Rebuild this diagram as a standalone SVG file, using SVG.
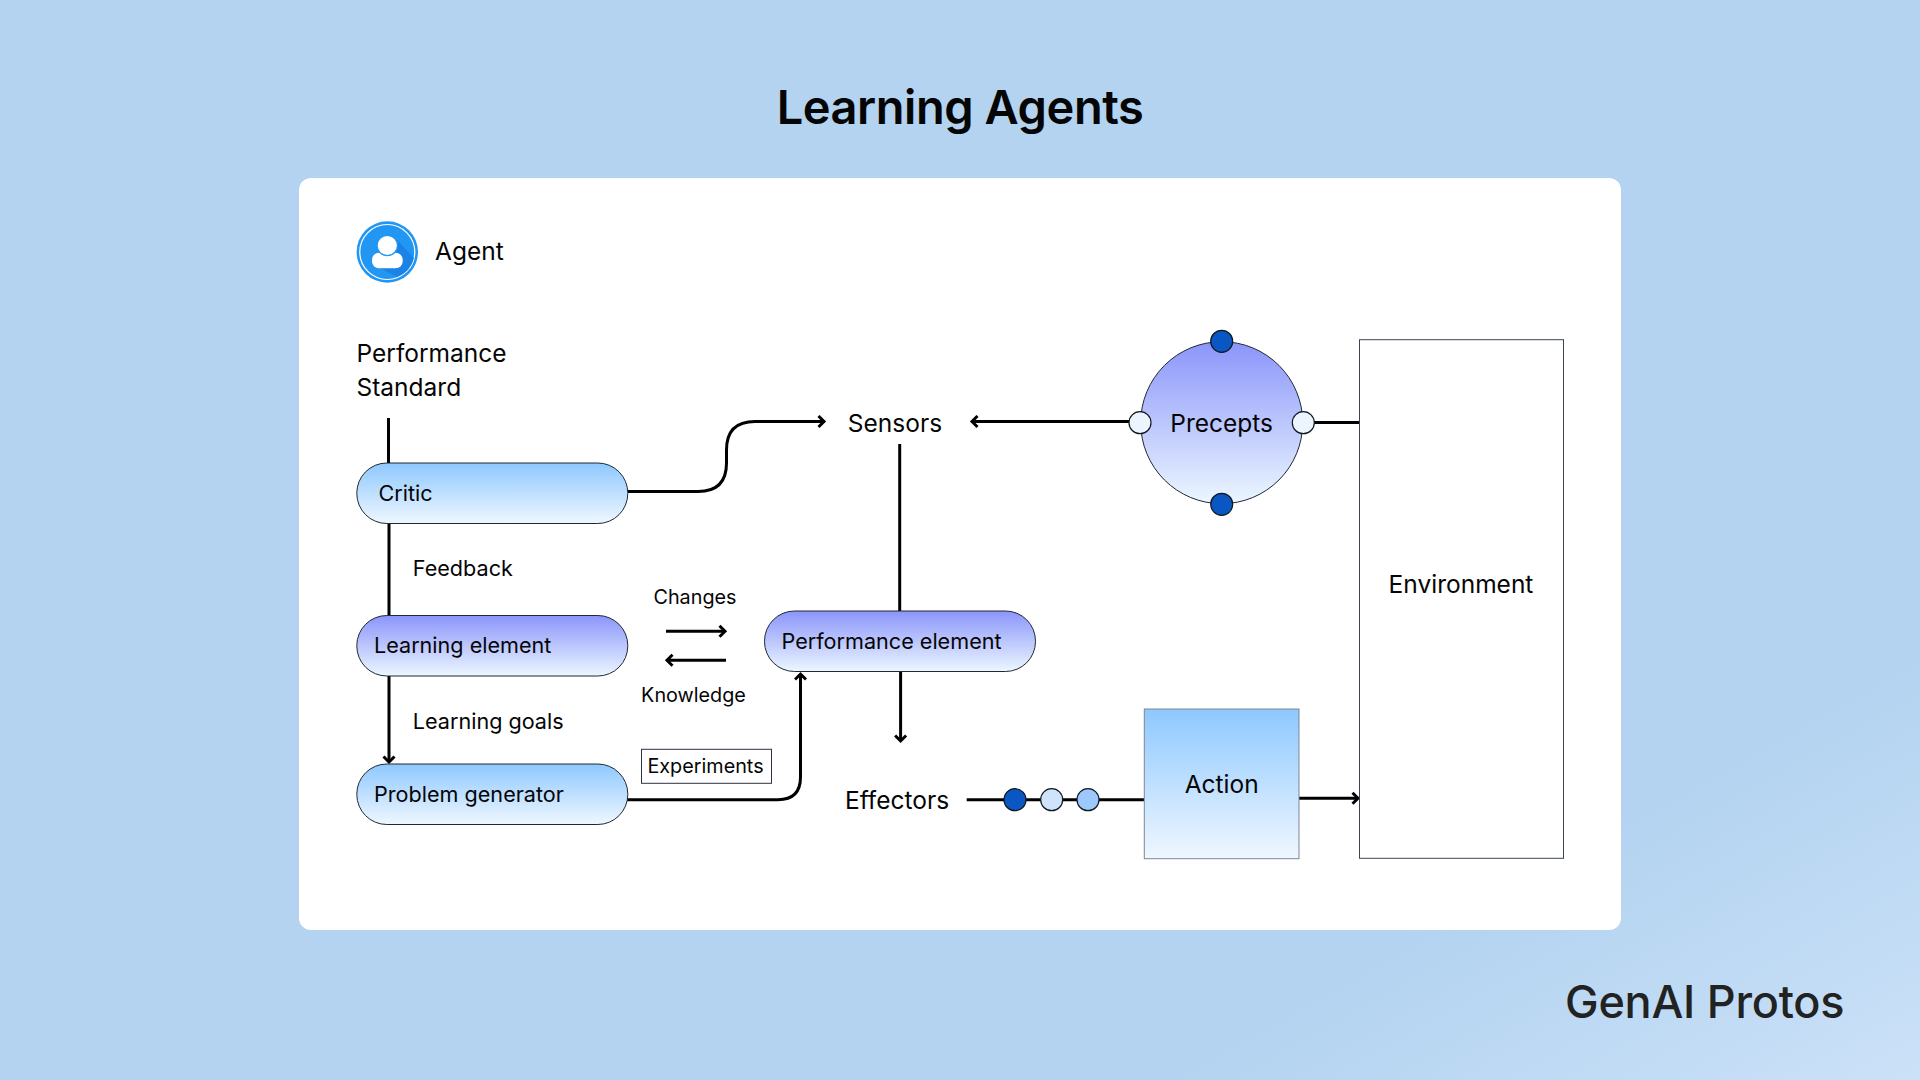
<svg xmlns="http://www.w3.org/2000/svg" width="1920" height="1080" viewBox="0 0 1920 1080">
<style>
text{font-family:Inter,"Liberation Sans",sans-serif;fill:#050505}
.t25{font-size:24.5px}.t22{font-size:21.6px}.t20{font-size:19.8px}
.m{text-anchor:middle}
.c{fill:none;stroke:#000;stroke-width:3}
.a{marker-end:url(#arr)}
.n{stroke:#1f2933;stroke-width:1}
.dot{stroke:#10181f;stroke-width:1.2}
</style>
<defs>
<linearGradient id="bg" x1="0" y1="0" x2="1" y2="1"><stop offset="0" stop-color="#b3d3f0"/><stop offset=".8" stop-color="#b3d3f0"/><stop offset="1" stop-color="#cbe1f8"/></linearGradient>
<linearGradient id="blue" x1="0" y1="0" x2="0" y2="1"><stop offset="0" stop-color="#8ec8ff"/><stop offset="1" stop-color="#eff7ff"/></linearGradient>
<linearGradient id="purple" x1="0" y1="0" x2="0" y2="1"><stop offset="0" stop-color="#8b95fb"/><stop offset="1" stop-color="#ecf7ff"/></linearGradient>
<marker id="arr" markerUnits="userSpaceOnUse" markerWidth="14" markerHeight="14" refX="9" refY="7" orient="auto"><path d="M3.5 1.5 L9 7 L3.5 12.5" fill="none" stroke="#000" stroke-width="3"/></marker>
</defs>
<rect width="1920" height="1080" fill="url(#bg)"/>
<rect id="card" x="299" y="178" width="1322" height="752" rx="12" fill="#fff"/>
<text x="960" y="124" class="m" font-size="47" font-weight="600" style="letter-spacing:-.45px">Learning Agents</text>
<g id="connectors">
<path class="c" d="M388.5 418V463"/>
<path class="c" d="M389 523V616"/>
<path class="c a" d="M389 676V762"/>
<path class="c a" d="M628 491.5H698Q726.5 491.5 726.5 463V450Q726.5 421.5 755 421.5H824"/>
<path class="c a" d="M1129 421.5H972"/>
<path class="c" d="M1314 422.5H1359"/>
<path class="c" d="M899.7 444V611"/>
<path class="c a" d="M900.6 672V741"/>
<path class="c a" d="M627 799.7H778Q800.5 799.7 800.5 777V674"/>
<path class="c a" d="M666 631.3H725"/>
<path class="c a" d="M726 660.3H667"/>
<path class="c" d="M966.7 799.7H1144"/>
<path class="c a" d="M1299 798.3H1358"/>
</g>
<g id="agent">
<circle cx="387.3" cy="252" r="30.7" fill="#2196f3"/>
<circle cx="387.3" cy="252" r="27.5" fill="none" stroke="#fff" stroke-width="1.2"/>
<path d="M397 240L414 258A27 27 0 0 1 397 277L380 268Z" fill="#1b82e6"/>
<rect x="372" y="252.7" width="30.7" height="15.5" rx="7" fill="#fff"/>
<circle cx="387.3" cy="245.5" r="10.2" fill="#fff" stroke="#2196f3" stroke-width="1.2"/>
<text x="435" y="260" class="t25">Agent</text>
</g>
<g id="performance-standard"><text x="356.5" y="361.7" class="t25">Performance</text><text x="356.5" y="395.7" class="t25">Standard</text></g>
<g id="critic"><rect class="n" x="356.8" y="463" width="271" height="60.5" rx="30" fill="url(#blue)"/><text x="378.5" y="501" class="t22">Critic</text></g>
<g id="feedback"><text x="412.8" y="576" class="t22">Feedback</text></g>
<g id="learning-element"><rect class="n" x="356.8" y="615.5" width="271" height="60.5" rx="30" fill="url(#purple)"/><text x="374" y="653" class="t22">Learning element</text></g>
<g id="learning-goals"><text x="412.8" y="729" class="t22">Learning goals</text></g>
<g id="problem-generator"><rect class="n" x="356.8" y="764" width="271" height="60.5" rx="30" fill="url(#blue)"/><text x="374" y="802" class="t22">Problem generator</text></g>
<g id="changes"><text x="695" y="604" class="m t20">Changes</text></g>
<g id="knowledge"><text x="693.5" y="702" class="m t20">Knowledge</text></g>
<g id="experiments"><rect x="641.5" y="749.3" width="130" height="34" fill="#fff" stroke="#2b3440" stroke-width="1"/><text x="705.5" y="773" class="m t20">Experiments</text></g>
<g id="performance-element"><rect class="n" x="764.5" y="611" width="271" height="60.5" rx="30" fill="url(#purple)"/><text x="781.5" y="649" class="t22">Performance element</text></g>
<g id="sensors"><text x="895" y="431.5" class="m t25">Sensors</text></g>
<g id="effectors"><text x="845" y="808.5" class="t25">Effectors</text></g>
<g id="precepts">
<circle class="n" cx="1221.7" cy="422.7" r="81" fill="url(#purple)"/>
<circle class="dot" cx="1221.7" cy="341.3" r="11" fill="#0a57c4"/>
<circle class="dot" cx="1221.7" cy="504.3" r="11" fill="#0a57c4"/>
<circle class="dot" cx="1140" cy="422.7" r="11" fill="#ecf5fd"/>
<circle class="dot" cx="1303.3" cy="422.7" r="11" fill="#ecf5fd"/>
<text x="1221.7" y="431.5" class="m t25">Precepts</text>
</g>
<g id="effector-dots">
<circle class="dot" cx="1015" cy="799.7" r="11" fill="#0a57c4"/>
<circle class="dot" cx="1051.7" cy="799.7" r="11" fill="#cfe3fa"/>
<circle class="dot" cx="1088" cy="799.7" r="11" fill="#9cc8fb"/>
</g>
<g id="action"><rect x="1144.3" y="709" width="154.7" height="149.7" fill="url(#blue)" stroke="#7d8793" stroke-width="1"/><text x="1221.7" y="792.5" class="m t25">Action</text></g>
<g id="environment"><rect x="1359.5" y="339.7" width="204" height="518.6" fill="#fff" stroke="#3b4550" stroke-width="1"/><text x="1461" y="593" class="m t25">Environment</text></g>
<text id="logo" x="1565" y="1017.5" font-size="45" font-weight="500" style="fill:#222;letter-spacing:-.25px">GenAI Protos</text>
</svg>
